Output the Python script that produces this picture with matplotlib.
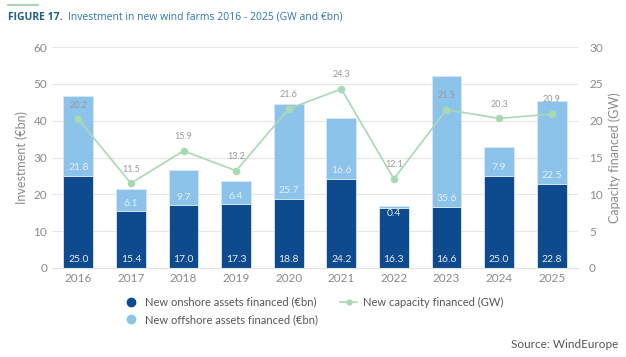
import numpy as np
import matplotlib.pyplot as plt
from matplotlib.lines import Line2D

years = ['2016', '2017', '2018', '2019', '2020', '2021', '2022', '2023', '2024', '2025']
onshore = [25.0, 15.4, 17.0, 17.3, 18.8, 24.2, 16.3, 16.6, 25.0, 22.8]
offshore = [21.8, 6.1, 9.7, 6.4, 25.7, 16.6, 0.4, 35.6, 7.9, 22.5]
capacity = [20.2, 11.5, 15.9, 13.2, 21.6, 24.3, 12.1, 21.5, 20.3, 20.9]

dark = '#0e4a8e'
light = '#8cc3eb'
green = '#a9d9b4'
grey = '#8a8a8a'

plt.rcParams['font.family'] = ['Lato', 'DejaVu Sans']

fig = plt.figure(figsize=(6.26, 3.57), dpi=100)
ax = fig.add_axes([52/626, 1-268/357, 526/626, 221/357])
x = np.arange(len(years))
w = 0.57

ax.bar(x, onshore, w, color=dark, edgecolor='#dbe8f5', lw=0.6, zorder=2)
ax.bar(x, offshore, w, bottom=onshore, color=light, edgecolor='#dbe8f5', lw=0.6, zorder=2)

for i in range(len(years)):
    ax.text(x[i], 1.2, '%.1f' % onshore[i], ha='center', va='bottom', color='#e6eef8', fontsize=7.5, zorder=5)
    ax.text(x[i], onshore[i] - 0.3 if offshore[i] < 1 else onshore[i] + 1.0, '%.1f' % offshore[i],
            ha='center', va='top' if offshore[i] < 1 else 'bottom', color='#e6eef8', fontsize=7.5, zorder=5)

ax.set_xlim(-0.5, 9.5)
ax.set_ylim(0, 60)
ax.set_yticks(range(0, 61, 10))
ax.set_xticks(x)
ax.set_xticklabels(years)
ax.grid(axis='y', color='#e6e6e6', lw=0.8, zorder=0)
ax.set_axisbelow(True)
for s in ['top', 'right', 'left']:
    ax.spines[s].set_visible(False)
ax.spines['bottom'].set_color('#e0e0e0')
ax.tick_params(length=0, colors=grey, labelsize=8.5)
ax.set_ylabel('Investment (€bn)', color=grey, fontsize=9)

ax2 = ax.twinx()
ax2.plot(x, capacity, color=green, lw=1.2, marker='o', ms=4.5, zorder=4)
for i in range(len(years)):
    ax2.text(x[i], capacity[i] + 1.3, '%.1f' % capacity[i], ha='center', va='bottom', color='#999999', fontsize=6.5)
ax2.set_ylim(0, 30)
ax2.set_yticks(range(0, 31, 5))
for s in ['top', 'right', 'left', 'bottom']:
    ax2.spines[s].set_visible(False)
ax2.tick_params(length=0, colors=grey, labelsize=8.5, pad=8)
ax2.set_ylabel('Capacity financed (GW)', color=grey, fontsize=9)

fig.text(8/626, 1-17/357, 'FIGURE 17.', color='#1f5f8b', fontsize=7.5, fontweight='bold', va='center',
         family=['Open Sans', 'DejaVu Sans'])
fig.text(68/626, 1-17/357, 'Investment in new wind farms 2016 - 2025 (GW and €bn)', color='#2a78b5', fontsize=7.5,
         va='center', family=['Open Sans', 'DejaVu Sans'])
fig.add_artist(Line2D([8/626, 38/626], [1-5/357, 1-5/357], color='#a9d9b4', lw=1.5))

handles = [
    Line2D([], [], ls='none', marker='o', color=dark, ms=6),
    Line2D([], [], ls='none', marker='o', color=light, ms=6),
    Line2D([], [], color=green, marker='o', ms=3.5, lw=1.2),
]
labels = ['New onshore assets financed (€bn)', 'New offshore assets financed (€bn)', 'New capacity financed (GW)']
fig.legend(handles, labels, loc='center', bbox_to_anchor=(0.5, 1-311/357), ncol=2, frameon=False,
           fontsize=8, labelcolor='#555555', handlelength=1.5, handletextpad=0.5, columnspacing=2.0,
           labelspacing=0.6)

fig.text(618/626, 1-345/357, 'Source: WindEurope', ha='right', va='center', color='#555555', fontsize=8.5)

fig.savefig('out.png', dpi=100)
